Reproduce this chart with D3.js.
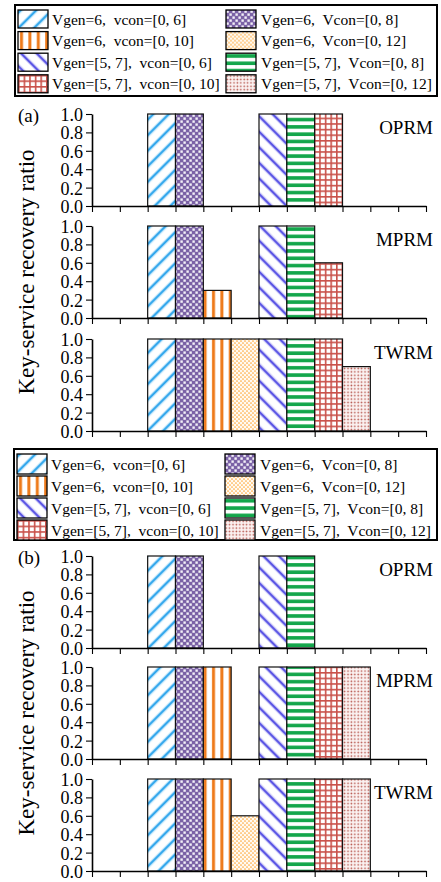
<!DOCTYPE html>
<html>
<head>
<meta charset="utf-8">
<script src="https://cdn.jsdelivr.net/npm/d3@7"></script>
<style>
  body { margin: 0; background: #fff; }
  text { font-family: "Liberation Serif", "Times New Roman", serif; fill: #000; }
</style>
</head>
<body>
<div id="chart"></div>
<script>
/* chart data */
var categories = ["Vgen=6,  vcon=[0, 6]", "Vgen=6,  Vcon=[0, 8]",
                  "Vgen=6,  vcon=[0, 10]", "Vgen=6,  Vcon=[0, 12]",
                  "Vgen=[5, 7],  vcon=[0, 6]", "Vgen=[5, 7],  Vcon=[0, 8]",
                  "Vgen=[5, 7],  vcon=[0, 10]", "Vgen=[5, 7],  Vcon=[0, 12]"];
var panelNames = ["OPRM", "MPRM", "TWRM"];
var figureTags = ["(a)", "(b)"];
var yTicks = [0, 0.2, 0.4, 0.6, 0.8, 1.0];

var aOPRM = [1, 1, 0, 0, 1, 1, 1, 0];
var aMPRM = [1, 1, 0.3, 0, 1, 1, 0.6, 0];
var aTWRM = [1, 1, 1, 1, 1, 1, 1, 0.7];
var bOPRM = [1, 1, 0, 0, 1, 1, 0, 0];
var bMPRM = [1, 1, 1, 0, 1, 1, 1, 1];
var bTWRM = [1, 1, 1, 0.6, 1, 1, 1, 1];

var figures = [
  {tag: figureTags[0], values: [aOPRM, aMPRM, aTWRM]},
  {tag: figureTags[1], values: [bOPRM, bMPRM, bTWRM]}
];

var width = 441, height = 882;
var numSlots = 12, firstSlot = 2;   // bars sit in slots 2..9 of 12
var axisLeft = 92, axisRight = 426, panelH = 92;
var layout = [
  {legendY: 5, legendX: 15, panelTops: [114, 226, 339], labelY: 272},
  {legendY: 449, legendX: 14, panelTops: [556, 667, 779], labelY: 713}
];

var svg = d3.select("#chart").append("svg")
  .attr("width", width).attr("height", height);

var defs = svg.append("defs");

// fill patterns, one per category
function diagPattern(id, color, halo, angle){
  var p = defs.append("pattern").attr("id", id)
    .attr("patternUnits", "userSpaceOnUse")
    .attr("width", 11).attr("height", 11)
    .attr("patternTransform", "rotate(" + angle + ")");
  p.append("rect").attr("width", 11).attr("height", 11).attr("fill", "#fff");
  p.append("rect").attr("x", 0).attr("width", 4.2).attr("height", 11).attr("fill", halo);
  p.append("rect").attr("x", 1.1).attr("width", 2).attr("height", 11).attr("fill", color);
}
diagPattern("pat0", "#2ea5ec", "#c6e8fb", 45);
diagPattern("pat4", "#5650e4", "#d4d2f8", -45);

var p1 = defs.append("pattern").attr("id", "pat1")
  .attr("patternUnits", "userSpaceOnUse").attr("width", 6).attr("height", 6);
p1.append("rect").attr("width", 6).attr("height", 6).attr("fill", "#7b62a6");
p1.append("rect").attr("x", 0.4).attr("y", 0.4).attr("width", 2.4).attr("height", 2.4).attr("fill", "#f3f0f8");
p1.append("rect").attr("x", 3.4).attr("y", 3.4).attr("width", 2.4).attr("height", 2.4).attr("fill", "#f3f0f8");

var p2 = defs.append("pattern").attr("id", "pat2")
  .attr("patternUnits", "userSpaceOnUse").attr("width", 8.4).attr("height", 10);
p2.append("rect").attr("width", 8.4).attr("height", 10).attr("fill", "#fff");
p2.append("rect").attr("x", 2).attr("width", 3).attr("height", 10).attr("fill", "#ee7a1a");

var p3 = defs.append("pattern").attr("id", "pat3")
  .attr("patternUnits", "userSpaceOnUse").attr("width", 4).attr("height", 4);
p3.append("rect").attr("width", 4).attr("height", 4).attr("fill", "#fffaf2");
p3.append("circle").attr("cx", 1).attr("cy", 1).attr("r", 0.85).attr("fill", "#ffa838");
p3.append("circle").attr("cx", 3).attr("cy", 3).attr("r", 0.85).attr("fill", "#ffa838");

var p5 = defs.append("pattern").attr("id", "pat5")
  .attr("patternUnits", "userSpaceOnUse").attr("width", 10).attr("height", 7.3);
p5.append("rect").attr("width", 10).attr("height", 7.3).attr("fill", "#fff");
p5.append("rect").attr("y", 1).attr("width", 10).attr("height", 3.6).attr("fill", "#13a64b");

var p6 = defs.append("pattern").attr("id", "pat6")
  .attr("patternUnits", "userSpaceOnUse").attr("width", 5.6).attr("height", 5.6);
p6.append("rect").attr("width", 5.6).attr("height", 5.6).attr("fill", "#fff");
p6.append("rect").attr("width", 1.6).attr("height", 5.6).attr("fill", "#c9514a");
p6.append("rect").attr("width", 5.6).attr("height", 1.6).attr("fill", "#c9514a");

var p7 = defs.append("pattern").attr("id", "pat7")
  .attr("patternUnits", "userSpaceOnUse").attr("width", 3.4).attr("height", 3.4);
p7.append("rect").attr("width", 3.4).attr("height", 3.4).attr("fill", "#fbf2f1");
p7.append("circle").attr("cx", 1.2).attr("cy", 1.2).attr("r", 0.85).attr("fill", "#b85850");

function fillOf(i){ return "url(#pat" + i + ")"; }

var x = d3.scaleBand().domain(d3.range(numSlots))
  .range([axisLeft, axisRight]).padding(0);
var xTick = d3.scaleLinear().domain([0, numSlots]).range([axisLeft, axisRight]);

/**
* drawLegend: two columns, four rows, boxed
**/
function drawLegend(g, lx, ly, rowH, iconH){
  g.append("rect")
    .attr("x", lx).attr("y", ly).attr("width", 437 - lx).attr("height", 91)
    .attr("fill", "#fff").attr("stroke", "#000").attr("stroke-width", 2);
  var items = g.selectAll(".leg").data(categories).enter().append("g")
    .attr("class", "leg")
    .attr("transform", function(d, i){
      var col = i % 2, row = Math.floor(i / 2);
      var ix = col === 0 ? lx + 3 : lx + 211;
      return "translate(" + ix + "," + (ly + 5 + row * rowH) + ")";
    });
  items.append("rect")
    .attr("width", 30).attr("height", iconH)
    .attr("fill", function(d, i){ return fillOf(i); })
    .attr("stroke", "#000").attr("stroke-width", 1.3);
  items.append("text")
    .attr("x", function(d, i){ return i % 2 === 0 ? 34 : 35; })
    .attr("y", iconH / 2 + 5.5)
    .style("white-space", "pre")
    .style("font-size", "15.5px")
    .text(function(d){ return d; });
}

/**
* drawPanel: one bar panel with its axes
**/
function drawPanel(g, top, values, name){
  var y = d3.scaleLinear().domain([0, 1]).range([top + panelH, top]);
  // keep the category index with each value so empty bars can be skipped
  var bars = values.map(function(v, i){ return {v: v, i: i}; })
                   .filter(function(d){ return d.v > 0; });

  g.selectAll(".bar").data(bars).enter().append("rect")
    .attr("x", function(d){ return x(d.i + firstSlot); })
    .attr("y", function(d){ return y(d.v); })
    .attr("width", x.bandwidth())
    .attr("height", function(d){ return y(0) - y(d.v); })
    .attr("fill", function(d){ return fillOf(d.i); })
    .attr("stroke", "#111").attr("stroke-width", 1.2);

  var yAxis = g.append("g")
    .attr("transform", "translate(" + axisLeft + ",0)")
    .call(d3.axisLeft(y).tickValues(yTicks).tickFormat(d3.format(".1f"))
          .tickSize(6).tickSizeOuter(0));
  yAxis.selectAll("text").style("font-size", "18px").attr("dy", "0.36em");

  var xAxis = g.append("g")
    .attr("transform", "translate(0," + (top + panelH) + ")")
    .call(d3.axisBottom(xTick).tickValues(d3.range(numSlots + 1))
          .tickFormat("").tickSize(6).tickSizeOuter(0));

  [yAxis, xAxis].forEach(function(a){
    a.select(".domain").attr("stroke", "#000").attr("stroke-width", 1.6);
    a.selectAll(".tick line").attr("stroke", "#000").attr("stroke-width", 1.1);
  });

  g.append("text")
    .attr("x", 433).attr("y", top + 20)
    .attr("text-anchor", "end")
    .style("font-size", "19px")
    .text(name);
}

figures.forEach(function(fig, f){
  var lay = layout[f];
  var g = svg.append("g");
  drawLegend(g, lay.legendX, lay.legendY, f === 0 ? 21.6 : 22, f === 0 ? 18 : 20);

  lay.panelTops.forEach(function(top, k){
    drawPanel(g, top, fig.values[k], panelNames[k]);
  });

  g.append("text")
    .attr("x", 18).attr("y", lay.panelTops[0] + 8)
    .style("font-size", "19px")
    .text(fig.tag);

  g.append("text")
    .attr("transform", "translate(34," + lay.labelY + ") rotate(-90)")
    .attr("text-anchor", "middle")
    .style("font-size", "23px")
    .text("Key-service recovery ratio");
});
</script>
</body>
</html>
